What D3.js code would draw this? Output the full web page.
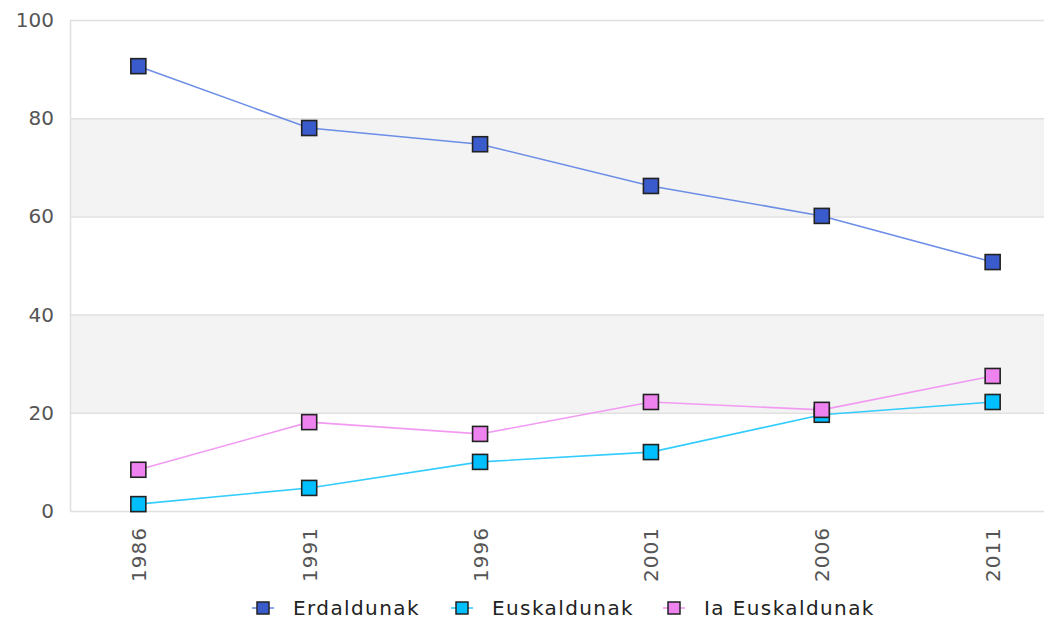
<!DOCTYPE html>
<html>
<head>
<meta charset="utf-8">
<script src="https://d3js.org/d3.v7.min.js"></script>
<style>
body { margin: 0; background: #fff; }
text { font-family: "DejaVu Sans", sans-serif; }
</style>
</head>
<body>
<svg id="vis-svg" width="1044" height="620"></svg>
<script>
// Data
var years = ['1986', '1991', '1996', '2001', '2006', '2011'];
var erdaldunak = [90.6, 78.0, 74.7, 66.2, 60.1, 50.7];
var euskaldunak = [1.4, 4.7, 10.0, 12.0, 19.6, 22.2];
var iaEuskaldunak = [8.4, 18.1, 15.7, 22.2, 20.6, 27.5];
var yTicks = [0, 20, 40, 60, 80, 100];

var series = [
  { name: 'Erdaldunak', values: erdaldunak, fill: '#3a5bcc', line: '#6d8ee6' },
  { name: 'Euskaldunak', values: euskaldunak, fill: '#00bfff', line: '#33ccff' },
  { name: 'Ia Euskaldunak', values: iaEuskaldunak, fill: '#ee82ee', line: '#f29af2' }
];

var width = 1044;
var margin = { top: 20, left: 70, bottom: 109 };
var plotBottom = 620 - margin.bottom;

var svg = d3.select('#vis-svg');

// Scales
var x = d3.scalePoint()
  .domain(years)
  .range([margin.left, 1061])
  .padding(0.4);

var y = d3.scaleLinear()
  .domain([0, 100])
  .range([plotBottom, margin.top]);

// Bands
var bands = [[20, 40], [60, 80]];
svg.selectAll('rect.band')
  .data(bands)
  .enter().append('rect')
  .attr('x', margin.left)
  .attr('width', width - margin.left)
  .attr('y', function(d) { return y(d[1]); })
  .attr('height', function(d) { return y(d[0]) - y(d[1]); })
  .attr('fill', '#f3f3f3');

// Grid lines
svg.selectAll('line.grid')
  .data(yTicks)
  .enter().append('line')
  .attr('x1', margin.left)
  .attr('x2', width)
  .attr('y1', function(d) { return y(d) + 0.5; })
  .attr('y2', function(d) { return y(d) + 0.5; })
  .attr('stroke', '#e0e0e0')
  .attr('stroke-width', 1.5);

// Left axis line
svg.append('line')
  .attr('x1', margin.left + 0.5).attr('x2', margin.left + 0.5)
  .attr('y1', margin.top).attr('y2', plotBottom)
  .attr('stroke', '#e0e0e0').attr('stroke-width', 1.5);

// Y Axis labels
var yAxis = d3.axisLeft(y).tickValues(yTicks).tickSize(0).tickPadding(16);
var yg = svg.append('g')
  .attr('transform', 'translate(' + margin.left + ',0)')
  .call(yAxis);
yg.select('.domain').remove();
yg.selectAll('text')
  .attr('fill', '#555')
  .style('font-family', '"DejaVu Sans", sans-serif')
  .style('font-size', '20px');

// X Axis labels
var xAxis = d3.axisBottom(x).tickSize(0).tickPadding(0);
var xg = svg.append('g')
  .attr('transform', 'translate(0,' + plotBottom + ')')
  .call(xAxis);
xg.select('.domain').remove();
xg.selectAll('text')
  .attr('fill', '#555')
  .style('font-family', '"DejaVu Sans", sans-serif')
  .style('font-size', '20px')
  .style('letter-spacing', '1px')
  .attr('text-anchor', 'end')
  .attr('transform', 'rotate(-90)')
  .attr('x', -16)
  .attr('y', 0)
  .attr('dy', '0.35em');

// Lines
series.forEach(function(s) {
  var line = d3.line()
    .x(function(d, i) { return x(years[i]); })
    .y(function(d) { return y(d); });
  svg.append('path')
    .attr('d', line(s.values))
    .attr('fill', 'none')
    .attr('stroke', s.line)
    .attr('stroke-width', 1.6);
});

// Markers
var size = 15;
series.forEach(function(s) {
  svg.selectAll(null)
    .data(s.values)
    .enter().append('rect')
    .attr('x', function(d, i) { return x(years[i]) - size / 2; })
    .attr('y', function(d) { return y(d) - size / 2; })
    .attr('width', size)
    .attr('height', size)
    .attr('fill', s.fill)
    .attr('stroke', '#222')
    .attr('stroke-width', 1.6);
});

// Legend
var legendX = [263, 462, 674];
var legend = svg.append('g').attr('transform', 'translate(0,608)');
series.forEach(function(s, i) {
  var g = legend.append('g').attr('transform', 'translate(' + legendX[i] + ',0)');
  g.append('line')
    .attr('x1', -11).attr('x2', 11).attr('y1', 0).attr('y2', 0)
    .attr('stroke', s.line).attr('stroke-width', 1.6);
  g.append('rect')
    .attr('x', -6).attr('y', -6).attr('width', 12).attr('height', 12)
    .attr('fill', s.fill).attr('stroke', '#222').attr('stroke-width', 1.5);
  g.append('text')
    .attr('x', 30).attr('y', 0).attr('dy', '0.35em')
    .attr('fill', '#222')
    .style('font-size', '20px')
    .style('letter-spacing', '1.4px')
    .text(s.name);
});
</script>
</body>
</html>
